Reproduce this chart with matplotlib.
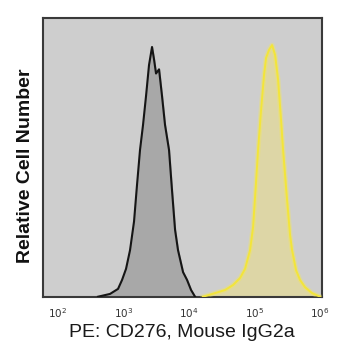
import matplotlib
matplotlib.use("Agg")
import matplotlib.pyplot as plt
import numpy as np

plt.rcParams['font.family'] = ['Liberation Sans', 'DejaVu Sans']

# isotype control (dark histogram): log10 fluorescence, relative count
iso_log = [2.616, 2.799, 2.921, 2.982, 3.043, 3.104, 3.165, 3.210, 3.256,
           3.302, 3.348, 3.393, 3.439, 3.470, 3.500, 3.546, 3.591, 3.637,
           3.698, 3.744, 3.790, 3.835, 3.912, 3.973, 4.034, 4.095]
iso_cnt = [0.0, 0.01, 0.028, 0.06, 0.10, 0.167, 0.27, 0.40, 0.526,
           0.616, 0.72, 0.83, 0.895, 0.85, 0.80, 0.815, 0.72, 0.616,
           0.526, 0.38, 0.24, 0.167, 0.088, 0.06, 0.024, 0.0]

# CD276 stained cells (yellow histogram)
cd_log = [4.216, 4.399, 4.552, 4.674, 4.780, 4.857, 4.933, 4.979, 5.024,
          5.055, 5.101, 5.146, 5.177, 5.223, 5.268, 5.314, 5.360, 5.405,
          5.436, 5.497, 5.543, 5.573, 5.634, 5.695, 5.771, 5.878, 6.000]
cd_cnt = [0.0, 0.013, 0.024, 0.042, 0.067, 0.10, 0.167, 0.25, 0.41,
          0.526, 0.67, 0.795, 0.856, 0.885, 0.902, 0.867, 0.778, 0.634,
          0.526, 0.347, 0.22, 0.167, 0.095, 0.06, 0.034, 0.013, 0.0]

decades = [2, 3, 4, 5, 6]

fig = plt.figure(figsize=(3.48, 3.6), dpi=100)
ax = fig.add_axes([0.1227, 0.1758, 0.8027, 0.775])
ax.set_facecolor('#cecece')

xi = 10 ** np.array(iso_log)
ax.fill_between(xi, iso_cnt, color='#a8a8a8', zorder=2)
ax.plot(xi, iso_cnt, color='#151515', lw=1.5, zorder=3)

xc = 10 ** np.array(cd_log)
ax.fill_between(xc, cd_cnt, color='#ddd6a6', zorder=2)
ax.plot(xc, cd_cnt, color='#f5ea55', lw=3.5, alpha=0.35, zorder=3)
ax.plot(xc, cd_cnt, color='#f3e53a', lw=1.4, zorder=4)

ax.set_xscale('log')
ax.set_xlim(10 ** 1.773, 10 ** 6.03)
ax.set_ylim(0, 1)
ax.set_xticks([10.0 ** d for d in decades])
ax.set_xticklabels([r'$10^{%d}$' % d for d in decades], fontsize=7.5, color='#333333')
ax.minorticks_off()
ax.tick_params(axis='x', length=0, pad=7)
ax.set_yticks([])

for s in ax.spines.values():
    s.set_color('#3a3a3a')
    s.set_linewidth(1.5)

ax.set_xlabel('PE: CD276, Mouse IgG2a', fontsize=14, color='#1a1a1a', labelpad=3)
ax.set_ylabel('Relative Cell Number', fontsize=14, fontweight='bold', color='#111111')
ax.yaxis.set_label_coords(-0.03, 0.468)

fig.savefig('out.png', dpi=100, facecolor='white')
